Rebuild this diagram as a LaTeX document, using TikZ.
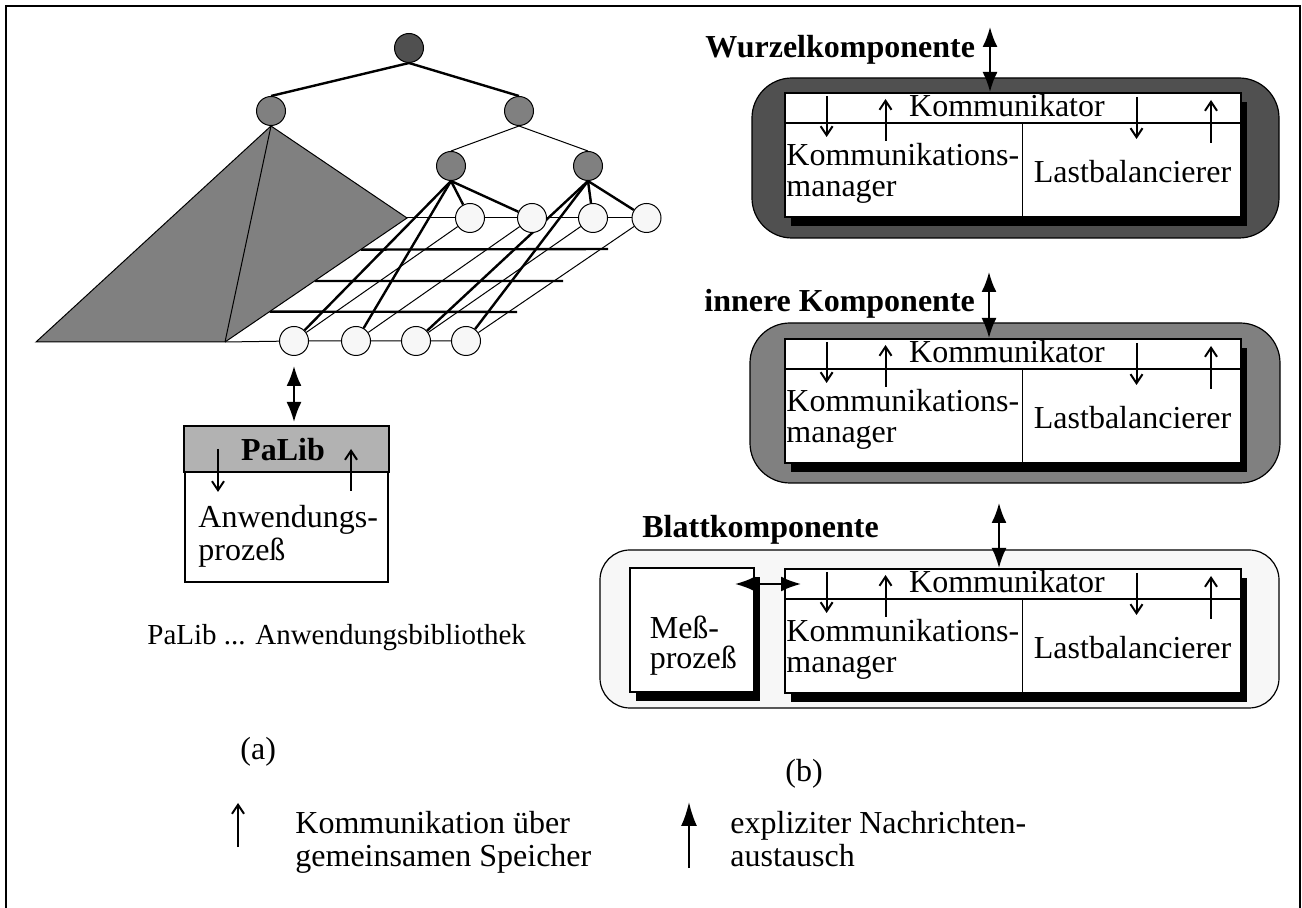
\documentclass[tikz,border=0pt]{standalone}
\usepackage{fontspec}
\setmainfont{Liberation Serif}
\usetikzlibrary{arrows.meta,calc,shadows,backgrounds}
\definecolor{rootgray}{RGB}{80,80,80}
\definecolor{midgray}{RGB}{128,128,128}
\definecolor{leafgray}{RGB}{247,247,247}
\definecolor{headgray}{RGB}{178,178,178}
\begin{document}
\begin{tikzpicture}[x=0.5pt,y=-0.5pt,
  every node/.append style={font=\fontsize{16}{15.5}\selectfont, inner sep=0pt},
  lbl/.style={font=\fontsize{16}{15.5}\selectfont\bfseries},
  treenode/.style={circle, draw, line width=0.5pt, minimum size=14.5pt},
  thickline/.style={line width=1.2pt},
  thinline/.style={line width=0.5pt},
  memarrow/.style={line width=1pt, -{Straight Barb[length=4.5pt,width=6pt]}},
  msgarrow/.style={line width=1pt, {Latex[length=10pt,width=7.5pt]}-{Latex[length=10pt,width=7.5pt]}},
  outerbox/.style={draw, line width=0.6pt, minimum width=#1},
  cbox/.style={draw, fill=white, line width=1pt,
    drop shadow={shadow xshift=3pt, shadow yshift=-4.5pt, fill=black, opacity=1}},
]
\useasboundingbox (0,0) rectangle (1302,908);

% frame (open at the bottom)
\draw[line width=1.1pt] (6,908) -- (6,6) -- (1300,6) -- (1300,908);

% ---------------- tree of components ----------------
\node[treenode, fill=rootgray] (root) at (409,48) {};
\node[treenode, fill=midgray] (l2l) at (271,111) {};
\node[treenode, fill=midgray] (l2r) at (519,111) {};
\node[treenode, fill=midgray] (l3l) at (451,166) {};
\node[treenode, fill=midgray] (l3r) at (588,166) {};
\foreach \n/\x in {1/470,2/532,3/593,4/646.5}
  \node[treenode, fill=leafgray] (b\n) at (\x,218) {};
\foreach \n/\x in {1/294,2/356,3/416,4/466}
  \node[treenode, fill=leafgray] (f\n) at (\x,341) {};

\coordinate (pl) at (36,342);
\coordinate (pf) at (225,342);
\coordinate (pb) at (407,218);

\begin{scope}[on background layer]
  % grid of the leaf processors
  \draw[thinline] (pb) -- (b1) -- (b2) -- (b3) -- (b4);
  \draw[thinline] (pf) -- (f1) -- (f2) -- (f3) -- (f4);
  \foreach \n in {1,...,4} \draw[thinline] (b\n) -- (f\n);
  \draw[thickline] ($(pf)!0.745!(pb)$) -- (608,249);
  \draw[thickline] ($(pf)!0.492!(pb)$) -- (563,281);
  \draw[thickline] ($(pf)!0.245!(pb)$) -- (517,312);
  % collapsed subtree
  \filldraw[fill=midgray, thinline] (l2l.south) -- (pl) -- (pf) -- (pb) -- cycle;
  \draw[thinline] (l2l.south) -- (pf);
  % tree edges
  \draw[thickline] (root.south) -- (l2l.north);
  \draw[thickline] (root.south) -- (l2r.north);
  \draw[thinline] (l2r.south) -- (l3l.north);
  \draw[thinline] (l2r.south) -- (l3r.north);
  \foreach \t in {b1,b2,f1,f2} \draw[thickline] (l3l.south) -- (\t);
  \foreach \t in {b3,b4,f3,f4} \draw[thickline] (l3r.south) -- (\t);
\end{scope}

% ---------------- application process ----------------
\node[draw, line width=1pt, minimum width=101.5pt, minimum height=77.5pt] (palib) at (286.5,504.5) {};
\filldraw[fill=headgray, line width=1pt] (palib.north west) rectangle ($(palib.north east)+(0,46)$);
\node[lbl, anchor=base] (palibt) at (283,461) {PaLib};
\draw[memarrow] ($(palib.north west)+(34,23)$) -- ($(palib.north west)+(34,66)$);
\draw[memarrow] ($(palib.north west)+(167,65)$) -- ($(palib.north west)+(167,23)$);
\node[anchor=base west] (anw1) at (198,528) {Anwendungs-};
\node[anchor=base west] (anw2) at (198,561) {prozeß};
\draw[msgarrow, shorten <=5pt, shorten >=2pt] (f1.south) -- (f1.south |- palib.north);

\node[anchor=base west, font=\fontsize{14.5}{15}\selectfont] (palibdef) at (147,645) {PaLib ... Anwendungsbibliothek};
\node[anchor=base west] (capa) at (240,760) {(a)};
\node[anchor=base west] (capb) at (785,782) {(b)};

% ---------------- components ----------------
\node[outerbox=263.5pt, fill=rootgray, rounded corners=20pt, minimum height=80pt] (wurzel) at (1015.5,158) {};
\node[outerbox=265pt, fill=midgray, rounded corners=20pt, minimum height=80pt] (inner) at (1015,403) {};
\node[outerbox=339.5pt, fill=leafgray, rounded corners=15pt, minimum height=79pt] (leaf) at (939.5,629) {};

\node[lbl, anchor=base west] (lw) at (705,58) {Wurzelkomponente};
\node[lbl, anchor=base west] (li) at (704,312) {innere Komponente};
\node[lbl, anchor=base west] (ll) at (642,538) {Blattkomponente};

\foreach \c/\t/\ax/\ay in {w/93/990/27, i/339/989/272, l/569/999/503} {
  \node[cbox, minimum width=228pt, minimum height=62pt] (box\c) at (1013,\t+62) {};
  \draw[line width=0.8pt] ($(box\c.north west)+(0,31)$) -- ($(box\c.north east)+(0,31)$);
  \draw[line width=0.8pt] ($(box\c.north west)+(238.5,31)$) -- ($(box\c.south west)+(238.5,0)$);
  \node[anchor=base] (kom\c) at ($(box\c.north west)+(223,25)$) {Kommunikator};
  \node[anchor=base west] (km\c) at ($(box\c.north west)+(2,74)$) {Kommunikations-};
  \node[anchor=base west] (mg\c) at ($(box\c.north west)+(2,105)$) {manager};
  \node[anchor=base] (lb\c) at ($(box\c.north west)+(348.5,91)$) {Lastbalancierer};
  \draw[memarrow] ($(box\c.north west)+(42.6,4)$) -- ($(box\c.north west)+(42.6,45)$);
  \draw[memarrow] ($(box\c.north west)+(101.5,49)$) -- ($(box\c.north west)+(101.5,7)$);
  \draw[memarrow] ($(box\c.north west)+(352.5,5)$) -- ($(box\c.north west)+(352.5,47)$);
  \draw[memarrow] ($(box\c.north west)+(427,51)$) -- ($(box\c.north west)+(427,8)$);
  \coordinate (up\c) at (\ax,\ay);
  \draw[msgarrow] (up\c) -- (up\c |- box\c.north);
}

% measuring process of the leaf component
\node[cbox, minimum width=62pt, minimum height=62pt] (mess) at (691.6,630.3) {};
\node[anchor=base west] (mess1) at (649.4,639) {Meß-};
\node[anchor=base west] (mess2) at (649.4,669) {prozeß};
\coordinate (ml) at (735,584);
\coordinate (mr) at (801,584);
\draw[msgarrow] (ml) -- (mr);

% ---------------- legend ----------------
\coordinate (lg1a) at (238,847);
\coordinate (lg1b) at (238,803);
\draw[memarrow] (lg1a) -- (lg1b);
\node[anchor=base west] (lt1) at (295,834) {Kommunikation über};
\node[anchor=base west] (lt2) at (295,866) {gemeinsamen Speicher};
\coordinate (lg2a) at (689,868);
\coordinate (lg2b) at (689,802);
\draw[line width=1pt, -{Latex[length=12pt,width=8pt]}] (lg2a) -- (lg2b);
\node[anchor=base west] (lt3) at (730,834) {expliziter Nachrichten-};
\node[anchor=base west] (lt4) at (730,866) {austausch};
\end{tikzpicture}
\end{document}
